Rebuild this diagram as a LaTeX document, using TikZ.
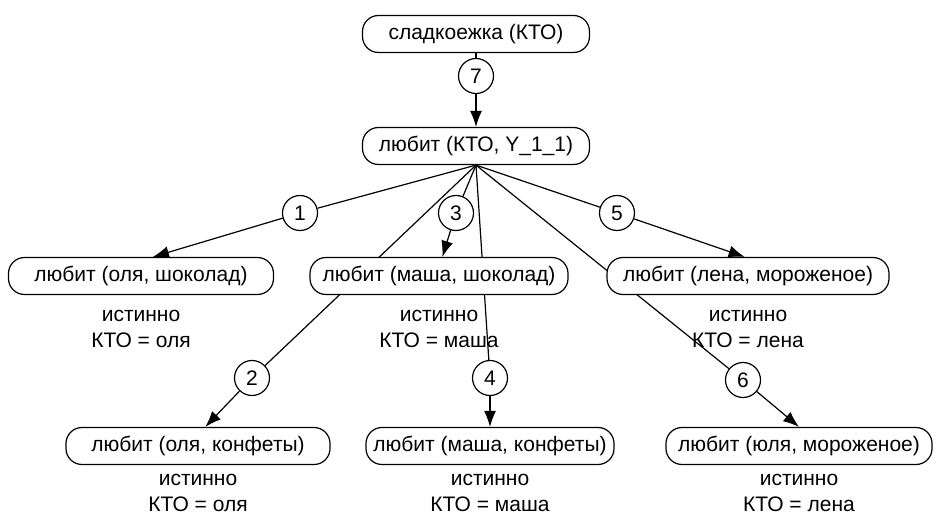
\documentclass[tikz,border=0pt]{standalone}
\usepackage{fontspec}
\setmainfont{Liberation Sans}
\usetikzlibrary{arrows.meta,backgrounds}
\begin{document}
\begin{tikzpicture}[x=1pt,y=-1pt,
  font=\fontsize{21}{26}\selectfont,
  goal/.style={draw,line width=1.2pt,rounded corners=16pt,fill=white,
    minimum height=37pt,inner xsep=4pt},
  num/.style={draw,circle,line width=1.2pt,fill=white,minimum size=35pt,inner sep=0pt},
  res/.style={align=center,inner sep=0pt},
  link/.style={line width=1.2pt},
  arr/.style={link,-{Latex[length=16pt,width=12pt]}}]
\useasboundingbox (0,0) rectangle (936,518);

% goal boxes
\node[goal,minimum width=227pt] (top) at (476,34) {сладкоежка (КТО)};
\node[goal,minimum width=227pt] (rule) at (476,146) {любит (КТО, Y\_1\_1)};
\node[goal,minimum width=265pt] (f1) at (141,276) {любит (оля, шоколад)};
\node[goal,minimum width=258pt] (f3) at (439,276) {любит (маша, шоколад)};
\node[goal,minimum width=282pt] (f5) at (748,276) {любит (лена, мороженое)};
\node[goal,minimum width=264pt] (f2) at (198,446) {любит (оля, конфеты)};
\node[goal,minimum width=248pt] (f4) at (490,446) {любит (маша, конфеты)};
\node[goal,minimum width=266pt] (f6) at (799,446) {любит (юля, мороженое)};

% results under the facts
\node[res] (r1) at (141,329) {истинно\\КТО = оля};
\node[res] (r3) at (439,329) {истинно\\КТО = маша};
\node[res] (r5) at (748,329) {истинно\\КТО = лена};
\node[res] (r2) at (198,493) {истинно\\КТО = оля};
\node[res] (r4) at (490,493) {истинно\\КТО = маша};
\node[res] (r6) at (799,493) {истинно\\КТО = лена};

% step numbers
\node[num] (n7) at (476,76) {7};
\node[num] (n1) at (300,213) {1};
\node[num] (n3) at (456,213) {3};
\node[num] (n5) at (617,213) {5};
\node[num] (n2) at (252,378) {2};
\node[num] (n4) at (490,378) {4};
\node[num] (n6) at (743,380) {6};

% connectors, behind the boxes
\begin{pgfonlayer}{background}
\draw[link] (top.south) -- (n7);
\draw[arr] (n7) -- (rule.north);
\foreach \n in {n1,n2,n3,n4,n5,n6}
  \draw[link] (rule.south) -- (\n);
\draw[arr] (n1) -- (f1.58);
\draw[arr] (n3) -- (f3.80);
\draw[arr] (n5) -- (f5.100);
\draw[arr] (n2) -- (f2.69);
\draw[arr] (n4) -- (f4.north);
\draw[arr] (n6) -- (f6.north);
\end{pgfonlayer}
\end{tikzpicture}
\end{document}
